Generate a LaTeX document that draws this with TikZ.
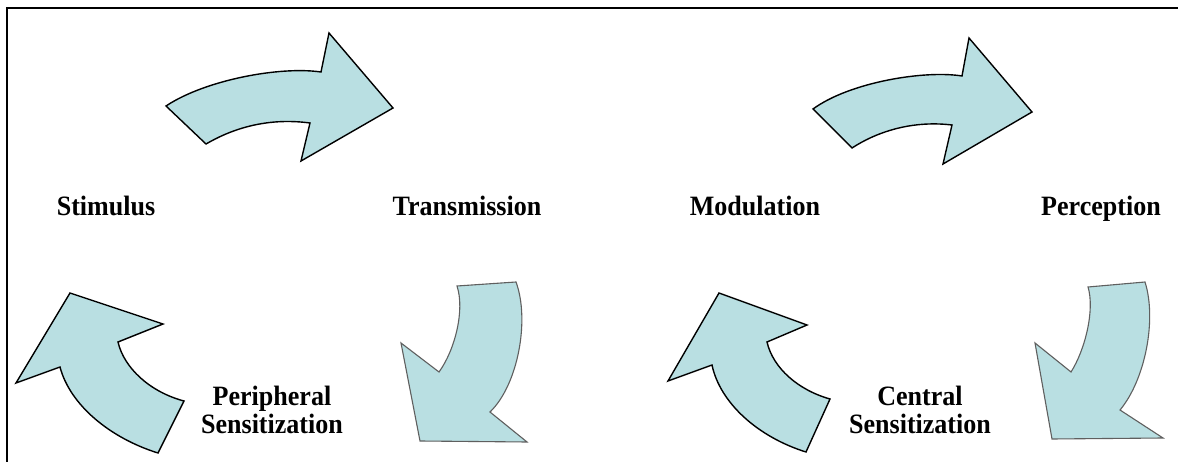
\documentclass[tikz,border=0pt]{standalone}
\usepackage{fontspec}
\setmainfont{Liberation Serif}[FakeStretch=0.93]
\definecolor{arrowfill}{RGB}{185,223,226}
\definecolor{downline}{RGB}{95,95,95}
\begin{document}
\begin{tikzpicture}[x=1pt,y=-1pt,
  curvedarrow/.style={fill=arrowfill,draw=black,line width=1.4pt,line join=miter},
  downarrow/.style={fill=arrowfill,draw=downline,line width=1.1pt,line join=miter},
  stagelabel/.style={font=\fontsize{28}{28}\selectfont\bfseries,inner sep=0pt,anchor=base,align=center}]
\useasboundingbox (0,0) rectangle (1178,462);
\fill[white] (0,0) rectangle (1178,462);
% frame (top and left edges visible)
\draw[line width=2.8pt] (7,470) -- (7,8) -- (1190,8);
% top-left arrow
\draw[curvedarrow] (166,106) -- (206,144) .. controls (230,130) and (265,117) .. (310,123)
  -- (301,161) -- (393,108) -- (329,33) -- (321,72)
  .. controls (280,66) and (205,80) .. cycle;
% top-right arrow
\draw[curvedarrow] (813,109) -- (852,148) .. controls (875,133) and (910,120) .. (952,125)
  -- (943,164) -- (1032,112) -- (969,38) -- (962,76)
  .. controls (925,70) and (850,82) .. cycle;
% bottom-left arrow (up-left)
\draw[curvedarrow] (16,383) -- (70,293) -- (163,324) -- (118,342)
  .. controls (124,368) and (150,392) .. (184,401) -- (158,453)
  .. controls (110,438) and (70,405) .. (60,367) -- cycle;
% bottom centre arrow (up-left)
\draw[curvedarrow] (668,381) -- (719,293) -- (807,325) -- (767,342)
  .. controls (773,368) and (798,390) .. (830,399) -- (806,452)
  .. controls (758,437) and (720,403) .. (712,365) -- cycle;
% down arrow after Transmission
\draw[downarrow] (457,286) -- (516,282) .. controls (530,320) and (518,385) .. (490,412)
  -- (527,442) -- (420,441) -- (401,343) -- (439,372)
  .. controls (455,350) and (465,310) .. cycle;
% down arrow after Perception
\draw[downarrow] (1088,287) -- (1145,282) .. controls (1157,320) and (1145,380) .. (1120,410)
  -- (1163,438) -- (1052,439) -- (1035,343) -- (1071,372)
  .. controls (1085,350) and (1095,310) .. cycle;
% labels
\node[stagelabel] (stim) at (106,216) {Stimulus};
\node[stagelabel] (trans) at (467,216) {Transmission};
\node[stagelabel] (mod) at (755,216) {Modulation};
\node[stagelabel] (perc) at (1101,216) {Perception};
\node[stagelabel] (psens) at (272,433) {Peripheral\\Sensitization};
\node[stagelabel] (csens) at (920,433) {Central\\Sensitization};
\end{tikzpicture}
\end{document}
